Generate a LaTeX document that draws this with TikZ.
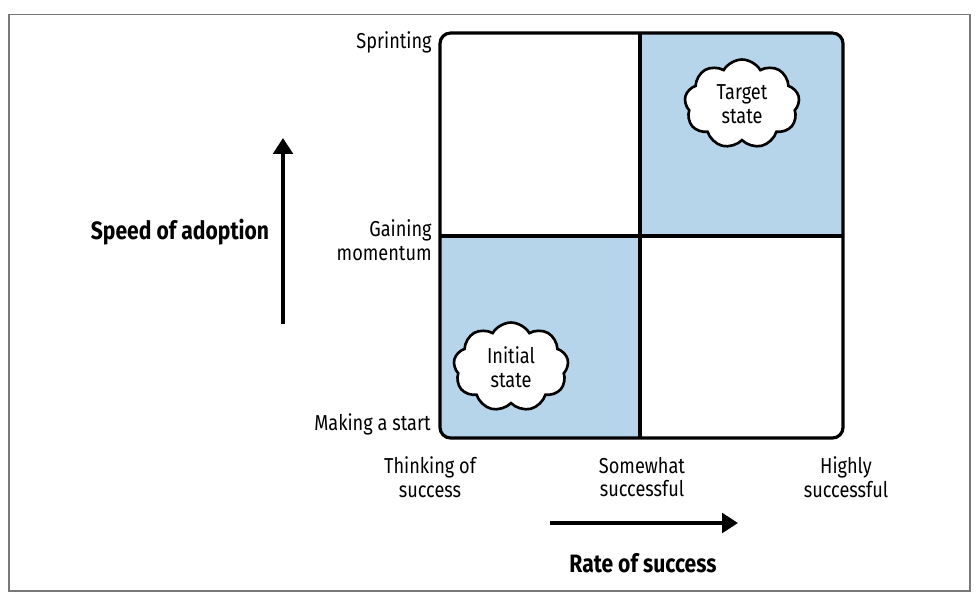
\documentclass[tikz,border=0pt]{standalone}
\usepackage{fontspec}
\setmainfont[FakeStretch=0.84]{Fira Sans}
\usepackage{tikz}
\usetikzlibrary{shapes.symbols,arrows.meta}
\definecolor{quadblue}{RGB}{182,213,234}
\definecolor{framegrey}{RGB}{120,120,120}

\begin{document}
\begin{tikzpicture}[x=0.02cm,y=-0.02cm,
  every node/.style={font=\fontsize{12.3}{13.6}\selectfont, inner sep=0pt},
  tick/.style={align=right, anchor=east},
  xtick/.style={align=center},
  axislabel/.style={font=\fontsize{14.3}{15}\selectfont\bfseries},
  axisarrow/.style={line width=2.4pt, -{Triangle[length=9pt,width=11pt]}},
  state/.style={cloud, cloud puffs=9, cloud puff arc=120, aspect=1.3,
    draw, fill=white, line width=1.5pt, minimum width=2.3cm, minimum height=1.78cm, align=center}]
  \useasboundingbox (0,0) rectangle (978,600);
  \draw[framegrey, line width=1.1pt] (9,14.5) rectangle (970,591);
  % quadrants
  \begin{scope}
    \clip[rounded corners=6pt] (440,33) rectangle (843,438);
    \fill[quadblue] (640,33) rectangle (843,236);
    \fill[quadblue] (440,236) rectangle (640,438);
  \end{scope}
  \draw[line width=1.8pt, rounded corners=6pt] (440,33) rectangle (843,438);
  \draw[line width=1.8pt] (640,33) -- (640,438);
  \draw[line width=1.8pt] (440,236) -- (843,236);
  \node (target) [state] at (742,104) {Target\\state};
  \node (initial) [state] at (511,367) {Initial\\state};
  % speed axis
  \node (sprint) [tick] at (432,42) {Sprinting};
  \node (gain) [tick] at (432,240) {Gaining\\momentum};
  \node (start) [tick] at (431,424) {Making a start};
  \node (speed) [axislabel] at (180,232) {Speed of adoption};
  \coordinate (sbot) at (283,324);
  \coordinate (stop) at (283,138);
  \draw[axisarrow] (sbot) -- (stop);
  % success axis
  \node (think) [xtick] at (430,477) {Thinking of\\success};
  \node (some) [xtick] at (642,477) {Somewhat\\successful};
  \node (high) [xtick] at (846,477) {Highly\\successful};
  \node (rate) [axislabel] at (643,563) {Rate of success};
  \coordinate (rleft) at (550,523);
  \coordinate (rright) at (738,523);
  \draw[axisarrow] (rleft) -- (rright);
\end{tikzpicture}
\end{document}
